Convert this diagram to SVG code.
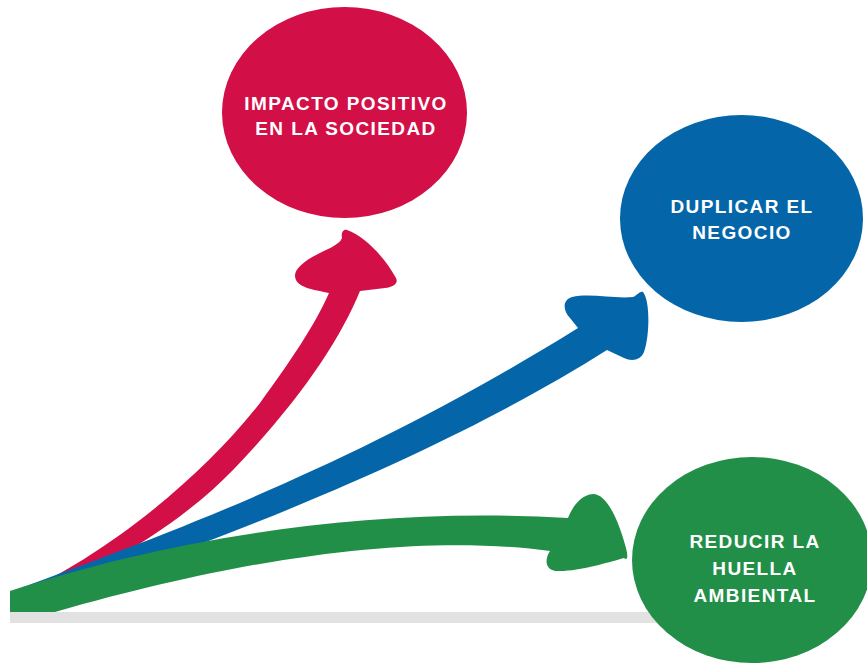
<svg xmlns="http://www.w3.org/2000/svg" width="867" height="664" viewBox="0 0 867 664">
  <style>
    .lbl { font-family: "Liberation Sans", Arial, sans-serif; font-weight: bold; font-size: 19px; letter-spacing: 1.4px; fill: #ffffff; text-anchor: middle; }
    .red { fill: #D20F47; }
    .blue { fill: #0466A9; }
    .green { fill: #228F48; }
  </style>
  <rect width="867" height="664" fill="#ffffff"/>
  <rect id="baseline" x="10" y="612" width="700" height="11" fill="#E2E2E2"/>
  <g id="connectors">
    <path id="arrow-red" class="red" d="M 10,598 C 100,560 200,480 260,403 C 290,362 315,325 329,293 C 315,290 300,288 296,280 C 292,272 300,263 318,254 C 330,248 340,244 342,238 C 341,233 343,229 347,230 C 365,236 385,258 396,278 C 399,284 392,287 385,288 L 360,291 C 340,340 300,400 233,470 C 180,525 90,580 10,605 Z"/>
    <path id="arrow-blue" class="blue" d="M 10,592 C 150,540 350,470 578,328 L 570,318 C 563,311 562,300 572,297 C 590,293 615,299 633,297 C 637,296 639,291 643,292 C 650,300 650,335 644,352 C 641,360 632,362 624,358 L 607,350 C 480,430 300,515 10,612 Z"/>
    <path id="arrow-green" class="green" d="M 10,591 C 150,545 350,505 568,518 C 572,508 580,495 593,494 C 608,494 620,525 626,548 C 628,556 628,561 624,558 C 610,562 580,571 560,571 C 545,572 544,560 550,551 C 450,538 300,542 55,612 L 10,612 Z"/>
  </g>
  <g id="node-impacto">
    <ellipse class="red" cx="344.5" cy="112.5" rx="122.5" ry="105.5"/>
    <text class="lbl" x="346" y="110">IMPACTO POSITIVO</text>
    <text class="lbl" x="346" y="135">EN LA SOCIEDAD</text>
  </g>
  <g id="node-duplicar">
    <ellipse class="blue" cx="741.5" cy="218.5" rx="121.5" ry="103.5"/>
    <text class="lbl" x="742" y="213">DUPLICAR EL</text>
    <text class="lbl" x="742" y="239">NEGOCIO</text>
  </g>
  <g id="node-reducir">
    <ellipse class="green" cx="752" cy="560" rx="120" ry="103"/>
    <text class="lbl" x="755" y="548">REDUCIR LA</text>
    <text class="lbl" x="755" y="575">HUELLA</text>
    <text class="lbl" x="755" y="602">AMBIENTAL</text>
  </g>
</svg>
